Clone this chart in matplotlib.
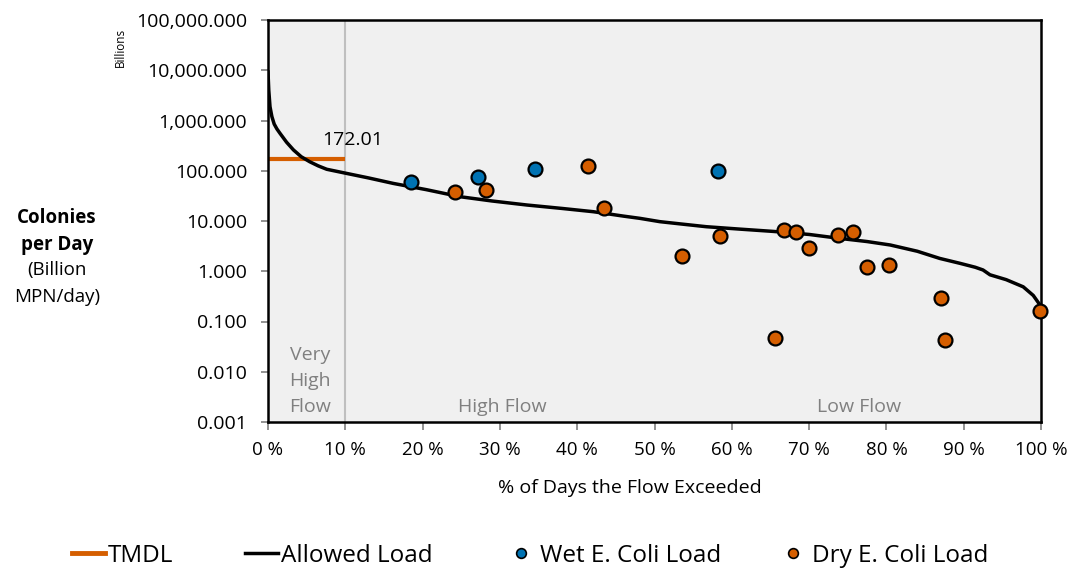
import matplotlib.pyplot as plt
from matplotlib.ticker import FixedLocator, FuncFormatter
from matplotlib.lines import Line2D

plt.rcParams['font.family'] = ['Open Sans', 'DejaVu Sans']

# allowed load duration curve (% of days exceeded, billion MPN/day)
curve_pct = [0.0, 0.1, 0.26, 0.5, 0.8, 1.15, 1.55, 2.4, 3.3, 4.3, 5.4, 6.5, 7.6,
             10.1, 13.0, 16.2, 20.5, 24.8, 29.0, 33.5, 38.0, 42.1, 46.0, 48.1,
             50.7, 53.5, 56.7, 61.0, 65.4, 70.0, 74.0, 77.5, 80.5, 84.0, 86.9,
             89.5, 91.5, 92.5, 93.4, 95.5, 97.7, 99.0, 99.9]
curve_load = [9200, 4000, 1880, 1200, 850, 680, 556, 370, 259, 190, 151, 125, 107,
              89, 72, 56, 42, 30.5, 25, 20.8, 17.8, 15.3, 12.5, 11.3,
              9.7, 8.7, 7.7, 6.9, 6.2, 5.4, 4.5, 3.9, 3.33, 2.5, 1.8,
              1.44, 1.2, 1.06, 0.85, 0.68, 0.49, 0.33, 0.21]

tmdl_pct = [0, 10]
tmdl_load = [172.01, 172.01]

wet_pct = [18.5, 27.2, 34.5, 58.2]
wet_load = [61, 76, 110, 99]

dry_pct = [24.2, 28.2, 41.4, 43.5, 53.6, 58.5, 65.6, 66.75, 68.3, 70.0, 73.7,
           75.7, 77.5, 80.3, 87.1, 87.6, 99.9]
dry_load = [37.5, 41, 124, 18.3, 2.0, 5.0, 0.047, 6.6, 5.96, 2.94, 5.19,
            6.1, 1.22, 1.35, 0.30, 0.042, 0.16]

labels = ['TMDL', 'Allowed Load', 'Wet E. Coli Load', 'Dry E. Coli Load']

orange = '#D55E00'
blue = '#0072B2'
gray = '#808080'

W, H = 1073, 568
fig = plt.figure(figsize=(W / 100, H / 100), dpi=100)
ax = fig.add_axes([268 / W, 1 - 422 / H, 773 / W, 402 / H])
ax.set_facecolor('#f0f0f0')

ax.set_yscale('log')
ax.set_ylim(0.001, 100000)
ax.set_xlim(0, 100)

ax.axvline(10, color='#bfbfbf', lw=1.5, zorder=1)
ax.plot(tmdl_pct, tmdl_load, color=orange, lw=3, zorder=2, solid_capstyle='butt')
ax.plot(curve_pct, curve_load, color='black', lw=2.5, zorder=3)
ax.plot(wet_pct, wet_load, 'o', color=blue, mec='black', mew=1.6, ms=10, zorder=4)
ax.plot(dry_pct, dry_load, 'o', color=orange, mec='black', mew=1.6, ms=10, zorder=4,
        clip_on=False)

ax.text(11.0, 409, '172.01', fontsize=14, ha='center', va='center')
# flow zone labels
for word, yy in zip(['Very', 'High', 'Flow'], [0.0215, 0.00655, 0.0020]):
    ax.text(5.4, yy, word, color=gray, fontsize=14, ha='center', va='center')
ax.text(30.3, 0.0020, 'High Flow', color=gray, fontsize=14, ha='center', va='center')
ax.text(76.5, 0.0020, 'Low Flow', color=gray, fontsize=14, ha='center', va='center')

ax.yaxis.set_major_locator(FixedLocator([10.0 ** k for k in range(-3, 6)]))
ax.yaxis.set_minor_locator(FixedLocator([]))
ax.yaxis.set_major_formatter(FuncFormatter(lambda v, p: f'{v:,.3f}'))
ax.set_xticks(range(0, 101, 10))
ax.set_xticklabels([f'{k} %' for k in range(0, 101, 10)])
ax.tick_params(axis='y', labelsize=14, length=5, width=1.2, color='#7f7f7f', pad=10)
ax.tick_params(axis='x', labelsize=13.5, length=5.5, width=1.2, color='#7f7f7f', pad=8)
for s in ax.spines.values():
    s.set_color('black')
    s.set_linewidth(1.8)

fig.text(630 / W, 1 - 488 / H, '% of Days the Flow Exceeded', fontsize=14,
         ha='center', va='center')

fig.text(57 / W, 1 - 218 / H, 'Colonies', fontsize=13.5, fontweight='bold',
         ha='center', va='center')
fig.text(57 / W, 1 - 245 / H, 'per Day', fontsize=13.5, fontweight='bold',
         ha='center', va='center')
fig.text(57 / W, 1 - 270 / H, '(Billion', fontsize=13.5, ha='center', va='center')
fig.text(57 / W, 1 - 297 / H, 'MPN/day)', fontsize=13.5, ha='center', va='center')
fig.text(120 / W, 1 - 47 / H, 'Billions', fontsize=8.5, rotation=90,
         ha='center', va='center')

handles = [
    Line2D([], [], color=orange, lw=3.5),
    Line2D([], [], color='black', lw=2.5),
    Line2D([], [], ls='none', marker='o', color=blue, mec='black', mew=1.2, ms=7),
    Line2D([], [], ls='none', marker='o', color=orange, mec='black', mew=1.2, ms=7),
]
x_starts = [72, 245, 504, 776]
for h, lab, xs in zip(handles, labels, x_starts):
    fig.legend([h], [lab], loc='center left', bbox_to_anchor=(xs / W, 1 - 556 / H),
               frameon=False, fontsize=17.5, handlelength=1.36, handletextpad=0.12,
               borderpad=0, borderaxespad=0)

fig.savefig('out.png', dpi=100)
